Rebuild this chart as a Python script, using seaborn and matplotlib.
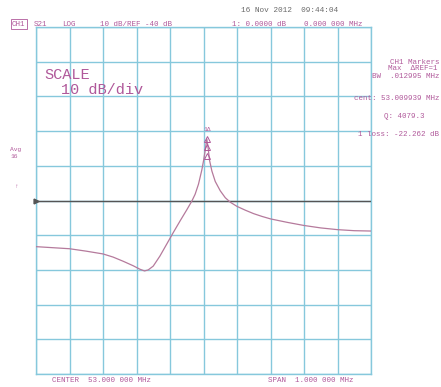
import numpy as np
import pandas as pd
import matplotlib
matplotlib.use("Agg")
import matplotlib.pyplot as plt
import seaborn as sns

# S21 trace, LOG magnitude (dB) versus frequency (MHz)
freq_mhz = [52.500, 52.550, 52.600, 52.650, 52.700, 52.730, 52.760, 52.790,
            52.810, 52.824, 52.835, 52.850, 52.870, 52.890, 52.910, 52.930,
            52.950, 52.965, 52.975, 52.985, 52.995, 53.000, 53.005, 53.0099,
            53.014, 53.018, 53.025, 53.035, 53.050, 53.065, 53.080, 53.100,
            53.125, 53.150, 53.175, 53.200, 53.250, 53.300, 53.350, 53.400,
            53.450, 53.500]
s21_db = [-53.3, -53.6, -53.9, -54.6, -55.4, -56.3, -57.5, -58.8,
          -59.8, -60.3, -60.0, -58.9, -56.0, -52.6, -49.2, -45.9,
          -42.7, -40.2, -38.2, -35.3, -31.2, -28.6, -25.6, -22.262,
          -25.0, -28.4, -31.5, -34.5, -37.2, -39.2, -40.5, -41.7,
          -42.8, -43.8, -44.6, -45.3, -46.3, -47.2, -47.9, -48.4,
          -48.7, -48.8]

center_mhz = 53.0
span_mhz = 1.0
ref_db = -40.0
db_per_div = 10.0
n_div = 10

marker_freq = 53.009939
marker_loss = -22.262
marker_bw = 0.012995
marker_q = 4079.3

grid_col = "#86c8dc"
trace_col = "#b57a9c"
text_col = "#b0589a"
mono = ["Liberation Mono", "DejaVu Sans Mono"]

sns.set_style("white")
plt.rcParams["font.family"] = mono

fig = plt.figure(figsize=(4.41, 3.87), dpi=100)
ax = fig.add_axes([36 / 441, 1 - 374 / 387, 335 / 441, 347 / 387])

df = pd.DataFrame({"freq": freq_mhz, "db": s21_db})
sns.lineplot(data=df, x="freq", y="db", ax=ax, color=trace_col, lw=0.9,
             sort=False, zorder=4)

x0, x1 = center_mhz - span_mhz / 2, center_mhz + span_mhz / 2
y_top = ref_db + db_per_div * n_div / 2
y_bot = ref_db - db_per_div * n_div / 2
ax.set_xlim(x0, x1)
ax.set_ylim(y_bot, y_top)
ax.set_xticks(np.linspace(x0, x1, n_div + 1))
ax.set_yticks(np.linspace(y_bot, y_top, n_div + 1))
ax.tick_params(length=0, labelbottom=False, labelleft=False)
ax.grid(True, color=grid_col, lw=1.0)
ax.set_xlabel("")
ax.set_ylabel("")
for s in ax.spines.values():
    s.set_color(grid_col)
    s.set_linewidth(1.0)

# reference line with its position marker
ax.axhline(ref_db, color="#555555", lw=1.0, zorder=3)
ax.plot([x0], [ref_db], marker=">", ms=3.5, color="#555555", clip_on=False, zorder=5)

# marker 1 at the resonance peak
for d in [0.0, 2.4, 4.8]:
    ax.plot([marker_freq], [marker_loss - d], marker="^", ms=4, mfc="none",
            mec=text_col, mew=0.7, zorder=6)
ax.text(marker_freq, marker_loss + 2.0, "1\u0394", color=text_col, fontsize=4.5,
        ha="center", va="bottom", zorder=6)

# on-screen annotations
fs = 5.4
def ft(x, y, s, **kw):
    kw.setdefault("color", text_col)
    kw.setdefault("fontsize", fs)
    kw.setdefault("va", "center")
    fig.text(x / 441, 1 - y / 387, s, **kw)

ft(241, 11, "16 Nov 2012  09:44:04", color="#6a6a6a", fontsize=5.6)
ft(12, 24, "CH1", bbox=dict(boxstyle="square,pad=0.15", fc="none", ec=text_col, lw=0.6))
ft(34, 24, "S21")
ft(62, 24, "LOG")
ft(100, 24, "10 dB/REF -40 dB")
ft(232, 24, "1: 0.0000 dB")
ft(304, 24, "0.000 000 MHz")

ft(44, 75, "SCALE", fontsize=11)
ft(61, 90, "10 dB/div", fontsize=11)
ft(10, 150, "Avg", fontsize=4.5)
ft(10, 157, "16", fontsize=4.5)
ft(15, 186, "\u2191", fontsize=4.5)

ft(439, 62, "CH1 Markers", ha="right")
ft(437, 68, "Max  \u0394REF=1", ha="right")
ft(439, 76, f"BW  {marker_bw:.6f} MHz".replace("0.", ".", 1), ha="right")
ft(439, 98, f"cent: {marker_freq:.6f} MHz", ha="right")
ft(424, 117, f"Q: {marker_q:.1f}", ha="right")
ft(439, 134, f"1 loss: {marker_loss:.3f} dB", ha="right")

ft(52, 381, "CENTER  53.000 000 MHz")
ft(268, 381, "SPAN  1.000 000 MHz")

fig.savefig("out.png", dpi=100, facecolor="white")
